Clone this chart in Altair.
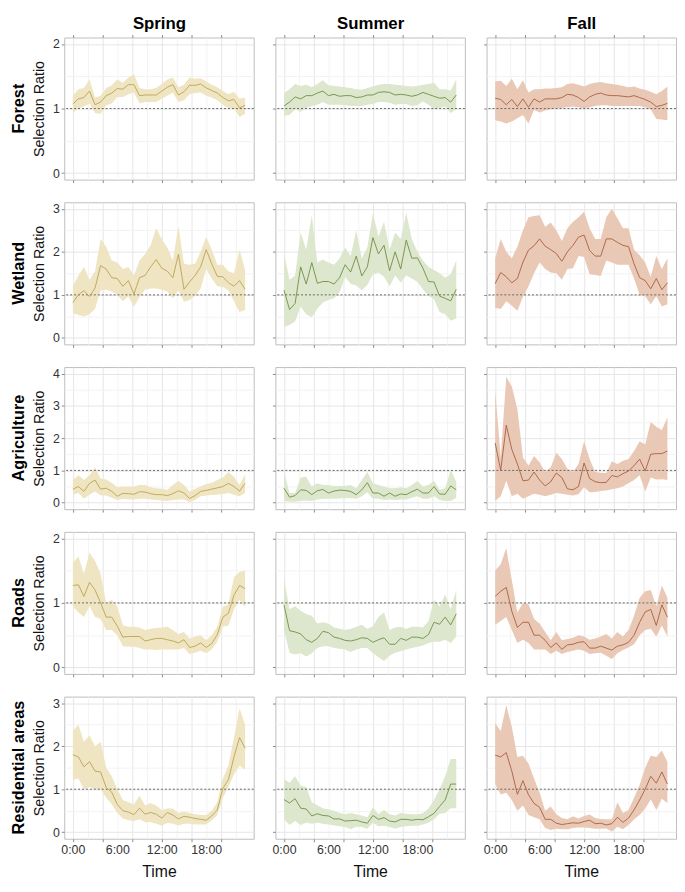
import altair as alt
import pandas as pd

FONT = "Liberation Sans"

SEASONS = ["Spring", "Summer", "Fall"]
HABITATS = ["Forest", "Wetland", "Agriculture", "Roads", "Residential areas"]
Y_MAX = {"Forest": 2, "Wetland": 3, "Agriculture": 4, "Roads": 2, "Residential areas": 3}
LINE_COLORS = {"Spring": "#b9a352", "Summer": "#6f8d45", "Fall": "#a85e40"}
FILL_COLORS = {"Spring": "#efe5c3", "Summer": "#dde7cd", "Fall": "#e9c9b5"}
REF_LEVEL = [1.0]

TIME_H = [0, 0.75, 1.5, 2.25, 3, 3.75, 4.5, 5.25, 6, 6.75, 7.5, 8.25, 9, 9.75, 10.5, 11.25,
          12, 12.75, 13.5, 14.25, 15, 15.75, 16.5, 17.25, 18, 18.75, 19.5, 20.25, 21, 21.75, 22.5, 23.25]
X_TICKS = [0, 2, 4, 6, 8, 10, 12, 14, 16, 18, 20, 22]

# ---------------- Forest ----------------
forest_spring_mean = [1.07, 1.15, 1.17, 1.27, 1.06, 1.10, 1.20, 1.24, 1.31, 1.30, 1.37, 1.37, 1.20, 1.21, 1.21, 1.21,
                      1.27, 1.33, 1.37, 1.21, 1.26, 1.36, 1.36, 1.38, 1.32, 1.28, 1.24, 1.17, 1.12, 1.14, 1.01, 1.05]
forest_spring_hi = [1.20, 1.30, 1.32, 1.45, 1.17, 1.20, 1.32, 1.36, 1.45, 1.40, 1.48, 1.53, 1.32, 1.30, 1.30, 1.32,
                    1.38, 1.45, 1.48, 1.33, 1.37, 1.48, 1.46, 1.47, 1.42, 1.37, 1.33, 1.27, 1.22, 1.26, 1.15, 1.17]
forest_spring_lo = [0.93, 1.00, 1.03, 1.08, 0.93, 0.92, 1.05, 1.08, 1.18, 1.18, 1.22, 1.25, 1.08, 1.10, 1.10, 1.10,
                    1.15, 1.20, 1.25, 1.10, 1.13, 1.22, 1.24, 1.25, 1.20, 1.17, 1.13, 1.06, 1.00, 1.00, 0.87, 0.92]

forest_summer_mean = [1.04, 1.10, 1.18, 1.15, 1.20, 1.20, 1.24, 1.27, 1.20, 1.22, 1.19, 1.20, 1.20, 1.17, 1.18, 1.21,
                      1.21, 1.25, 1.26, 1.25, 1.21, 1.22, 1.21, 1.19, 1.21, 1.25, 1.22, 1.19, 1.16, 1.17, 1.10, 1.21]
forest_summer_hi = [1.24, 1.30, 1.38, 1.35, 1.37, 1.33, 1.38, 1.44, 1.36, 1.35, 1.34, 1.33, 1.32, 1.30, 1.29, 1.32,
                    1.34, 1.37, 1.38, 1.38, 1.37, 1.36, 1.35, 1.34, 1.35, 1.37, 1.38, 1.40, 1.30, 1.30, 1.28, 1.45]
forest_summer_lo = [0.89, 0.90, 0.99, 0.95, 1.01, 1.04, 1.06, 1.10, 1.06, 1.06, 1.06, 1.05, 1.04, 1.04, 1.04, 1.06,
                    1.07, 1.10, 1.10, 1.09, 1.06, 1.07, 1.07, 1.04, 1.05, 1.11, 1.06, 0.99, 1.01, 1.03, 0.93, 0.99]

forest_fall_mean = [1.16, 1.14, 1.06, 1.14, 1.03, 1.15, 1.02, 1.15, 1.10, 1.15, 1.15, 1.15, 1.17, 1.22, 1.21, 1.17,
                    1.11, 1.18, 1.22, 1.24, 1.21, 1.20, 1.20, 1.19, 1.18, 1.20, 1.17, 1.14, 1.10, 1.03, 1.05, 1.08]
forest_fall_hi = [1.42, 1.43, 1.35, 1.46, 1.30, 1.44, 1.25, 1.30, 1.30, 1.31, 1.31, 1.32, 1.33, 1.38, 1.39, 1.37,
                  1.34, 1.38, 1.40, 1.41, 1.39, 1.38, 1.37, 1.35, 1.33, 1.34, 1.31, 1.29, 1.26, 1.22, 1.27, 1.34]
forest_fall_lo = [0.82, 0.80, 0.77, 0.80, 0.85, 0.90, 0.77, 0.98, 0.94, 0.97, 0.99, 1.00, 1.01, 1.02, 1.03, 1.02,
                  1.00, 1.02, 1.04, 1.05, 1.05, 1.04, 1.04, 1.04, 1.04, 1.04, 1.04, 1.02, 0.99, 0.84, 0.83, 0.82]

# ---------------- Wetland ----------------
wetland_spring_mean = [0.82, 1.00, 1.10, 0.96, 1.16, 1.68, 1.60, 1.40, 1.38, 1.20, 1.33, 1.02, 1.40, 1.45, 1.65, 1.82,
                       1.62, 1.55, 1.40, 1.94, 1.13, 1.30, 1.45, 1.65, 2.05, 1.72, 1.43, 1.42, 1.28, 1.20, 1.33, 1.13]
wetland_spring_hi = [1.20, 1.45, 1.65, 1.35, 1.55, 2.30, 2.12, 1.80, 1.75, 1.60, 1.65, 1.45, 1.80, 1.95, 2.15, 2.55,
                     2.30, 2.10, 1.80, 2.60, 1.72, 1.70, 1.72, 2.00, 2.35, 2.05, 1.70, 1.70, 1.55, 1.50, 2.05, 1.58]
wetland_spring_lo = [0.58, 0.53, 0.50, 0.55, 0.68, 1.10, 1.12, 1.08, 1.00, 0.85, 0.97, 0.72, 0.95, 1.12, 1.15, 1.15,
                     1.12, 1.08, 0.92, 1.10, 0.84, 0.88, 0.98, 1.15, 1.60, 1.38, 1.20, 1.18, 1.10, 0.85, 0.60, 0.65]

wetland_summer_mean = [1.11, 0.66, 0.80, 1.65, 1.25, 1.75, 1.27, 1.31, 1.31, 1.25, 1.40, 1.70, 1.53, 1.90, 1.44, 1.65,
                       2.33, 1.95, 2.15, 1.56, 2.00, 1.60, 2.27, 1.85, 1.86, 1.62, 1.31, 1.30, 0.97, 0.92, 0.86, 1.13]
wetland_summer_hi = [1.95, 1.35, 1.45, 2.45, 2.05, 2.85, 1.75, 1.82, 1.75, 1.70, 1.85, 2.10, 1.90, 2.50, 1.85, 2.10,
                     2.90, 2.35, 2.70, 2.05, 2.45, 2.30, 2.90, 2.30, 2.00, 1.80, 1.65, 1.58, 1.50, 1.40, 1.48, 1.80]
wetland_summer_lo = [0.26, 0.30, 0.38, 0.73, 0.55, 0.48, 0.68, 0.82, 0.88, 0.92, 1.06, 1.41, 1.26, 1.22, 1.11, 1.23,
                     1.48, 1.52, 1.42, 1.20, 1.45, 1.29, 1.45, 1.38, 1.30, 1.13, 0.98, 0.90, 0.60, 0.55, 0.40, 0.45]

wetland_fall_mean = [1.26, 1.52, 1.42, 1.28, 1.38, 1.76, 2.04, 2.14, 2.30, 2.13, 2.05, 1.96, 1.78, 2.00, 2.15, 2.34,
                     2.39, 2.03, 1.90, 1.90, 2.30, 2.30, 2.22, 2.15, 2.12, 1.72, 1.40, 1.33, 1.14, 1.38, 1.12, 1.28]
wetland_fall_hi = [1.85, 2.30, 2.00, 1.85, 2.12, 2.50, 2.80, 2.83, 2.85, 2.58, 2.68, 2.50, 2.25, 2.55, 2.70, 2.80,
                   2.93, 2.55, 2.30, 2.30, 2.80, 3.00, 2.78, 2.55, 2.55, 2.05, 1.92, 1.75, 1.42, 1.90, 1.60, 1.85]
wetland_fall_lo = [0.70, 0.67, 0.85, 0.75, 0.63, 0.95, 1.20, 1.50, 1.75, 1.60, 1.52, 1.50, 1.35, 1.60, 1.62, 1.90,
                   1.88, 1.48, 1.46, 1.44, 1.80, 1.75, 1.70, 1.70, 1.70, 1.38, 1.00, 0.97, 0.78, 0.97, 0.73, 0.78]

# ---------------- Agriculture ----------------
agri_spring_mean = [0.42, 0.50, 0.35, 0.60, 0.70, 0.42, 0.45, 0.35, 0.20, 0.29, 0.28, 0.26, 0.34, 0.33, 0.28, 0.25,
                    0.25, 0.22, 0.28, 0.37, 0.30, 0.13, 0.22, 0.35, 0.38, 0.42, 0.46, 0.50, 0.60, 0.50, 0.36, 0.60]
agri_spring_hi = [0.70, 0.85, 0.70, 0.85, 1.10, 0.75, 0.72, 0.62, 0.48, 0.50, 0.50, 0.50, 0.55, 0.55, 0.48, 0.45,
                  0.43, 0.40, 0.55, 0.68, 0.55, 0.35, 0.43, 0.50, 0.58, 0.62, 0.70, 0.78, 0.95, 0.80, 0.55, 0.88]
agri_spring_lo = [0.25, 0.30, 0.12, 0.25, 0.35, 0.22, 0.22, 0.15, 0.08, 0.12, 0.10, 0.10, 0.12, 0.12, 0.10, 0.08,
                  0.07, 0.05, 0.08, 0.10, 0.10, 0.02, 0.08, 0.20, 0.22, 0.24, 0.25, 0.27, 0.30, 0.25, 0.20, 0.30]

agri_summer_mean = [0.45, 0.17, 0.22, 0.40, 0.38, 0.25, 0.37, 0.41, 0.30, 0.36, 0.39, 0.38, 0.35, 0.25, 0.40, 0.62,
                    0.30, 0.30, 0.20, 0.30, 0.20, 0.27, 0.25, 0.34, 0.42, 0.30, 0.30, 0.50, 0.27, 0.26, 0.52, 0.40]
agri_summer_hi = [0.95, 0.30, 0.30, 0.78, 0.80, 0.50, 0.60, 0.55, 0.55, 0.52, 0.52, 0.52, 0.55, 0.45, 0.70, 0.95,
                  0.60, 0.55, 0.50, 0.45, 0.45, 0.48, 0.45, 0.55, 0.67, 0.50, 0.55, 0.68, 0.40, 0.45, 1.02, 0.65]
agri_summer_lo = [0.05, 0.03, 0.03, 0.05, 0.07, 0.05, 0.10, 0.12, 0.12, 0.12, 0.13, 0.14, 0.14, 0.12, 0.20, 0.32,
                  0.12, 0.12, 0.08, 0.10, 0.08, 0.10, 0.10, 0.15, 0.20, 0.12, 0.12, 0.20, 0.08, 0.05, 0.05, 0.15]

agri_fall_mean = [1.85, 1.00, 2.40, 1.65, 1.20, 0.68, 0.70, 0.95, 0.70, 0.52, 0.65, 0.92, 0.78, 0.43, 0.40, 0.50,
                  1.23, 0.75, 0.65, 0.62, 0.63, 0.84, 0.80, 0.90, 0.98, 1.15, 1.35, 0.98, 1.50, 1.52, 1.52, 1.60]
agri_fall_hi = [3.50, 1.40, 3.90, 3.60, 2.90, 1.40, 1.15, 1.45, 1.25, 0.95, 1.10, 1.55, 1.35, 1.05, 0.95, 1.20,
                1.90, 1.35, 0.95, 0.93, 0.92, 1.28, 1.20, 1.30, 1.35, 1.60, 1.90, 1.80, 2.50, 2.35, 2.25, 2.65]
agri_fall_lo = [0.05, 0.20, 0.68, 0.20, 0.28, 0.12, 0.20, 0.28, 0.25, 0.20, 0.25, 0.30, 0.28, 0.25, 0.22, 0.26,
                0.48, 0.32, 0.33, 0.36, 0.38, 0.42, 0.45, 0.50, 0.60, 0.70, 0.85, 0.35, 0.78, 0.72, 0.73, 0.70]

# ---------------- Roads ----------------
roads_spring_mean = [1.27, 1.28, 1.10, 1.32, 1.20, 1.00, 0.78, 0.78, 0.64, 0.47, 0.48, 0.48, 0.48, 0.41, 0.43, 0.45,
                     0.45, 0.43, 0.41, 0.38, 0.43, 0.31, 0.33, 0.38, 0.31, 0.37, 0.51, 0.78, 0.84, 1.12, 1.27, 1.22]
roads_spring_hi = [1.62, 1.72, 1.45, 1.78, 1.65, 1.45, 1.00, 1.05, 0.95, 0.65, 0.63, 0.63, 0.62, 0.58, 0.60, 0.61,
                   0.62, 0.63, 0.58, 0.52, 0.55, 0.45, 0.48, 0.50, 0.42, 0.50, 0.63, 0.94, 0.98, 1.40, 1.48, 1.50]
roads_spring_lo = [0.95, 0.85, 0.78, 0.95, 0.78, 0.75, 0.58, 0.58, 0.50, 0.33, 0.32, 0.32, 0.30, 0.28, 0.28, 0.27,
                   0.28, 0.28, 0.28, 0.28, 0.30, 0.21, 0.23, 0.26, 0.22, 0.28, 0.40, 0.63, 0.65, 0.90, 1.05, 0.93]

roads_summer_mean = [0.97, 0.57, 0.55, 0.52, 0.43, 0.39, 0.45, 0.56, 0.54, 0.47, 0.45, 0.42, 0.41, 0.43, 0.46, 0.45,
                     0.39, 0.43, 0.46, 0.36, 0.36, 0.45, 0.42, 0.47, 0.47, 0.45, 0.51, 0.70, 0.67, 0.78, 0.66, 0.83]
roads_summer_hi = [1.37, 0.90, 0.95, 0.88, 0.83, 0.80, 0.68, 0.70, 0.68, 0.62, 0.60, 0.58, 0.60, 0.63, 0.66, 0.60,
                   0.64, 0.78, 0.85, 0.58, 0.62, 0.63, 0.60, 0.63, 0.63, 0.62, 0.72, 1.05, 0.95, 1.13, 0.90, 1.20]
roads_summer_lo = [0.58, 0.23, 0.20, 0.22, 0.17, 0.22, 0.30, 0.33, 0.33, 0.30, 0.29, 0.28, 0.24, 0.28, 0.30, 0.30,
                   0.22, 0.16, 0.10, 0.18, 0.23, 0.25, 0.28, 0.30, 0.32, 0.34, 0.38, 0.40, 0.40, 0.43, 0.38, 0.48]

roads_fall_mean = [1.10, 1.18, 1.24, 0.87, 0.62, 0.70, 0.70, 0.50, 0.50, 0.42, 0.31, 0.38, 0.28, 0.35, 0.36, 0.39,
                   0.40, 0.30, 0.30, 0.33, 0.30, 0.27, 0.33, 0.35, 0.39, 0.50, 0.70, 0.86, 0.90, 0.65, 0.97, 0.78]
roads_fall_hi = [1.50, 1.60, 1.85, 1.35, 0.85, 1.00, 0.98, 0.75, 0.68, 0.55, 0.42, 0.55, 0.42, 0.44, 0.46, 0.50,
                 0.48, 0.43, 0.45, 0.48, 0.52, 0.45, 0.55, 0.48, 0.58, 0.80, 1.08, 1.18, 1.20, 0.95, 1.27, 1.08]
roads_fall_lo = [0.66, 0.72, 0.78, 0.58, 0.38, 0.43, 0.38, 0.28, 0.28, 0.28, 0.21, 0.26, 0.21, 0.24, 0.26, 0.28,
                 0.26, 0.21, 0.22, 0.23, 0.18, 0.13, 0.22, 0.27, 0.31, 0.36, 0.50, 0.58, 0.60, 0.48, 0.65, 0.48]

# ---------------- Residential areas ----------------
resid_spring_mean = [1.80, 1.75, 1.52, 1.64, 1.42, 1.40, 1.04, 0.93, 0.65, 0.50, 0.47, 0.41, 0.56, 0.42, 0.46, 0.42,
                     0.33, 0.46, 0.40, 0.31, 0.37, 0.35, 0.32, 0.30, 0.28, 0.38, 0.52, 1.02, 1.22, 1.75, 2.20, 1.95]
resid_spring_hi = [2.35, 2.50, 2.10, 2.25, 2.00, 2.10, 1.50, 1.30, 1.00, 0.75, 0.70, 0.65, 0.85, 0.62, 0.68, 0.62,
                   0.52, 0.55, 0.55, 0.45, 0.48, 0.45, 0.42, 0.40, 0.40, 0.50, 0.70, 1.25, 1.55, 2.20, 2.88, 2.50]
resid_spring_lo = [1.22, 1.25, 1.00, 1.05, 1.00, 1.00, 0.80, 0.65, 0.45, 0.32, 0.28, 0.26, 0.30, 0.23, 0.23, 0.20,
                   0.15, 0.22, 0.20, 0.16, 0.20, 0.20, 0.18, 0.18, 0.18, 0.28, 0.40, 0.80, 1.05, 1.35, 1.55, 1.45]

resid_summer_mean = [0.76, 0.68, 0.78, 0.56, 0.54, 0.38, 0.43, 0.39, 0.38, 0.31, 0.31, 0.26, 0.27, 0.28, 0.24, 0.21,
                     0.39, 0.30, 0.34, 0.26, 0.24, 0.30, 0.30, 0.28, 0.30, 0.29, 0.36, 0.44, 0.60, 0.75, 1.12, 1.12]
resid_summer_hi = [1.23, 1.15, 1.30, 1.08, 1.05, 0.70, 0.63, 0.56, 0.53, 0.50, 0.45, 0.42, 0.45, 0.42, 0.39, 0.35,
                   0.58, 0.42, 0.52, 0.42, 0.39, 0.45, 0.43, 0.42, 0.42, 0.44, 0.55, 0.75, 1.00, 1.30, 1.70, 1.70]
resid_summer_lo = [0.30, 0.17, 0.26, 0.17, 0.22, 0.20, 0.22, 0.20, 0.18, 0.16, 0.14, 0.12, 0.07, 0.13, 0.12, 0.08,
                   0.22, 0.14, 0.15, 0.12, 0.08, 0.12, 0.14, 0.15, 0.15, 0.18, 0.22, 0.30, 0.43, 0.45, 0.56, 0.56]

resid_fall_mean = [1.79, 1.75, 1.85, 1.42, 0.88, 1.20, 0.87, 0.67, 0.58, 0.30, 0.30, 0.21, 0.18, 0.20, 0.22, 0.21,
                   0.25, 0.28, 0.20, 0.21, 0.17, 0.20, 0.35, 0.23, 0.33, 0.52, 0.75, 1.00, 1.30, 1.14, 1.40, 1.12]
resid_fall_hi = [2.54, 2.35, 2.95, 2.45, 1.75, 1.78, 1.60, 1.25, 0.92, 0.50, 0.60, 0.42, 0.33, 0.30, 0.37, 0.32,
                 0.38, 0.41, 0.33, 0.31, 0.30, 0.30, 0.70, 0.45, 0.52, 0.80, 1.10, 1.50, 1.78, 1.75, 1.90, 1.63]
resid_fall_lo = [1.12, 0.88, 0.92, 0.75, 0.50, 0.62, 0.40, 0.35, 0.30, 0.10, 0.05, 0.08, 0.07, 0.07, 0.10, 0.11,
                 0.11, 0.10, 0.08, 0.08, 0.09, 0.02, 0.13, 0.07, 0.17, 0.30, 0.40, 0.55, 0.76, 0.52, 0.78, 0.68]

SERIES = {
    ("Forest", "Spring"): (forest_spring_mean, forest_spring_lo, forest_spring_hi),
    ("Forest", "Summer"): (forest_summer_mean, forest_summer_lo, forest_summer_hi),
    ("Forest", "Fall"): (forest_fall_mean, forest_fall_lo, forest_fall_hi),
    ("Wetland", "Spring"): (wetland_spring_mean, wetland_spring_lo, wetland_spring_hi),
    ("Wetland", "Summer"): (wetland_summer_mean, wetland_summer_lo, wetland_summer_hi),
    ("Wetland", "Fall"): (wetland_fall_mean, wetland_fall_lo, wetland_fall_hi),
    ("Agriculture", "Spring"): (agri_spring_mean, agri_spring_lo, agri_spring_hi),
    ("Agriculture", "Summer"): (agri_summer_mean, agri_summer_lo, agri_summer_hi),
    ("Agriculture", "Fall"): (agri_fall_mean, agri_fall_lo, agri_fall_hi),
    ("Roads", "Spring"): (roads_spring_mean, roads_spring_lo, roads_spring_hi),
    ("Roads", "Summer"): (roads_summer_mean, roads_summer_lo, roads_summer_hi),
    ("Roads", "Fall"): (roads_fall_mean, roads_fall_lo, roads_fall_hi),
    ("Residential areas", "Spring"): (resid_spring_mean, resid_spring_lo, resid_spring_hi),
    ("Residential areas", "Summer"): (resid_summer_mean, resid_summer_lo, resid_summer_hi),
    ("Residential areas", "Fall"): (resid_fall_mean, resid_fall_lo, resid_fall_hi),
}

W, H = 192, 144


def panel(hab, season, first_col, first_row, last_row):
    mean, lo, hi = SERIES[(hab, season)]
    df = pd.DataFrame({"t": TIME_H, "m": mean, "lo": lo, "hi": hi})
    ref_df = pd.DataFrame({"ref": REF_LEVEL})
    ymax = Y_MAX[hab]
    pad = ymax * 0.05
    yvals = [v * 0.5 for v in range(0, ymax * 2 + 1)]
    xs = alt.Scale(domain=[-1.16, 24.41], nice=False, zero=False)
    ys = alt.Scale(domain=[-pad, ymax + pad], nice=False, zero=False)
    xaxis = alt.Axis(
        values=X_TICKS,
        labels=last_row,
        labelExpr="datum.value % 6 === 0 ? datum.value + ':00' : ''",
        labelFlush=False,
        labelOverlap=False,
        title="Time" if last_row else None,
        titleFontSize=16,
        titlePadding=8,
        gridColor={"condition": {"test": "datum.value % 4 === 0", "value": "#e6e6e6"}, "value": "#f3f3f3"},
        tickOpacity={"condition": {"test": "datum.value % 4 === 0", "value": 1}, "value": 0},
    )
    yaxis = alt.Axis(
        values=yvals,
        labels=first_col,
        labelExpr="datum.value % 1 === 0 ? datum.value : ''",
        labelFlush=False,
        labelOverlap=False,
        title="Selection Ratio" if first_col else None,
        titleFontSize=14.5,
        titlePadding=6,
        gridColor={"condition": {"test": "datum.value % 1 === 0", "value": "#e6e6e6"}, "value": "#f3f3f3"},
        tickOpacity={"condition": {"test": "datum.value % 1 === 0", "value": 1}, "value": 0},
    )
    base = alt.Chart(df)
    band = base.mark_area(color=FILL_COLORS[season], opacity=1).encode(
        x=alt.X("t:Q", scale=xs, axis=xaxis),
        y=alt.Y("lo:Q", scale=ys, axis=yaxis),
        y2="hi:Q",
    )
    ref = alt.Chart(ref_df).mark_rule(color="#666666", strokeDash=[2, 2], strokeWidth=1).encode(
        y=alt.Y("ref:Q", scale=ys, axis=yaxis)
    )
    line = base.mark_line(color=LINE_COLORS[season], strokeWidth=0.9).encode(
        x=alt.X("t:Q", scale=xs, axis=xaxis),
        y=alt.Y("m:Q", scale=ys, axis=yaxis),
    )
    layers = [band, ref, line]
    if first_row:
        header = base.mark_point(opacity=0).encode(
            x=alt.X("t:Q", scale=xs, axis=alt.Axis(
                orient="top", title=season, labels=False, ticks=False, grid=False, domain=False,
                titleFontSize=17, titleFontWeight="bold", titleColor="#000000", titlePadding=5)),
            y=alt.Y("m:Q", scale=ys, axis=yaxis),
        )
        layers.append(header)
    ch = alt.layer(*layers).properties(width=W, height=H)
    if first_row:
        ch = ch.resolve_axis(x="independent")
    if first_col:
        ch = ch.properties(title=alt.TitleParams(hab, orient="left", fontSize=16.5, fontWeight="bold", font=FONT,
                                                 color="#000000", anchor="middle", frame="group", offset=4))
    return ch


rows = []
for r, hab in enumerate(HABITATS):
    panels = [panel(hab, s, c == 0, r == 0, r == len(HABITATS) - 1) for c, s in enumerate(SEASONS)]
    rows.append(alt.hconcat(*panels, spacing=17))

chart = alt.vconcat(*rows, spacing=18).properties(
    padding={"left": 3, "top": 0, "right": 0, "bottom": 0}
).configure_view(
    stroke="#bdbdbd", strokeWidth=1
).configure_axis(
    domain=False, tickSize=3, tickColor="#8a8a8a", tickWidth=1,
    labelFont=FONT, titleFont=FONT, labelFontSize=12.5, labelColor="#333333",
    titleColor="#111111", titleFontWeight="normal", labelPadding=2, gridWidth=1,
)

chart.save("out.html", embed_options={"renderer": "svg", "actions": False})
